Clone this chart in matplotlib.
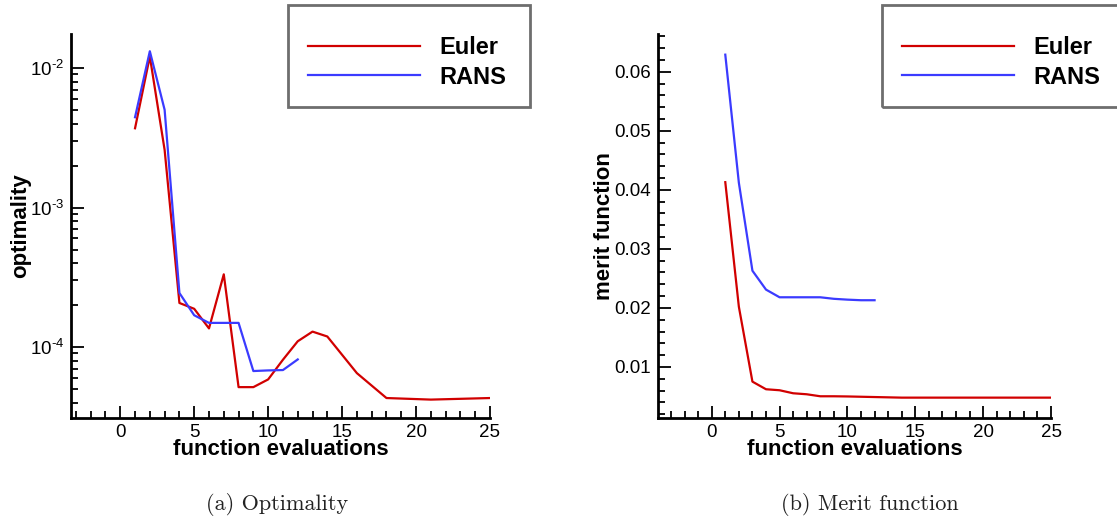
import math
import matplotlib
matplotlib.use("Agg")
import matplotlib.pyplot as plt
from matplotlib.ticker import MultipleLocator, LogLocator, NullFormatter, FuncFormatter, FormatStrFormatter
from matplotlib.patches import Rectangle

# ---------------- data ----------------
opt_euler_x = [1, 2, 3, 4, 5, 6, 7, 8, 9, 10, 11, 12, 13, 14, 16, 18, 21, 25]
opt_euler_y = [3.7e-3, 1.21e-2, 2.59e-3, 2.07e-4, 1.88e-4, 1.36e-4, 3.32e-4,
               5.16e-5, 5.16e-5, 5.86e-5, 8.11e-5, 1.10e-4, 1.29e-4, 1.19e-4,
               6.5e-5, 4.31e-5, 4.2e-5, 4.31e-5]
opt_rans_x = [1, 2, 3, 4, 5, 6, 7, 8, 9, 10, 11, 12]
opt_rans_y = [4.44e-3, 1.32e-2, 5.02e-3, 2.44e-4, 1.69e-4, 1.49e-4, 1.49e-4,
              1.49e-4, 6.73e-5, 6.8e-5, 6.84e-5, 8.15e-5]

mer_euler_x = [1, 2, 3, 4, 5, 6, 7, 8, 9, 10, 12, 14, 25]
mer_euler_y = [0.0413, 0.0202, 0.00751, 0.00622, 0.00605, 0.00554, 0.00537,
               0.00503, 0.00503, 0.00500, 0.00490, 0.00480, 0.00480]
mer_rans_x = [1, 2, 3, 4, 5, 6, 7, 8, 9, 10, 11, 12]
mer_rans_y = [0.0629, 0.0412, 0.0263, 0.0231, 0.0218, 0.0218, 0.0218,
              0.0218, 0.02154, 0.0214, 0.0213, 0.0213]

series_labels = ["Euler", "RANS"]
x_label = "function evaluations"
y_labels = ["optimality", "merit function"]
captions = ["(a) Optimality", "(b) Merit function"]

# ---------------- style ----------------
plt.rcParams['font.family'] = ['Liberation Sans', 'DejaVu Sans']
plt.rcParams['mathtext.fontset'] = 'custom'
plt.rcParams['mathtext.rm'] = 'Liberation Sans'
plt.rcParams['mathtext.it'] = 'Liberation Sans:italic'
plt.rcParams['mathtext.bf'] = 'Liberation Sans:bold'

RED = '#d10000'
BLUE = '#3b3bff'
W, H = 1117, 520
fig = plt.figure(figsize=(W / 100, H / 100), dpi=100)

def fx(px):
    return px / W

def fy(py):
    return 1 - py / H

axA = fig.add_axes([fx(71), fy(418), fx(490) - fx(71), fy(34) - fy(418)])
axB = fig.add_axes([fx(657.7), fy(418), fx(1051) - fx(657.7), fy(34) - fy(418)])

lw = 1.6
axA.plot(opt_euler_x, opt_euler_y, color=RED, lw=lw, label=series_labels[0])
axA.plot(opt_rans_x, opt_rans_y, color=BLUE, lw=lw, label=series_labels[1])
axB.plot(mer_euler_x, mer_euler_y, color=RED, lw=lw, label=series_labels[0])
axB.plot(mer_rans_x, mer_rans_y, color=BLUE, lw=lw, label=series_labels[1])


def decade_fmt(v, pos):
    e = int(round(math.log10(v)))
    sign = '-' if e < 0 else ''
    return r'$10^{\text{%s%d}}$' % (sign, abs(e))


axA.set_yscale('log')
axA.set_xlim(-3.33, 25)
axA.set_ylim(3.1e-5, 1.754e-2)
axA.yaxis.set_major_locator(LogLocator(base=10))
axA.yaxis.set_minor_locator(LogLocator(base=10, subs=range(2, 10)))
axA.yaxis.set_major_formatter(FuncFormatter(decade_fmt))
axA.yaxis.set_minor_formatter(NullFormatter())

axB.set_xlim(-3.98, 25)
axB.set_ylim(0.00135, 0.0664)
axB.yaxis.set_major_locator(MultipleLocator(0.01))
axB.yaxis.set_minor_locator(MultipleLocator(0.002))
axB.yaxis.set_major_formatter(FormatStrFormatter('%.2f'))

for ax, yl, ylx in [(axA, y_labels[0], -0.121), (axB, y_labels[1], -0.134)]:
    ax.xaxis.set_major_locator(MultipleLocator(5))
    ax.xaxis.set_minor_locator(MultipleLocator(1))
    for s in ['top', 'right']:
        ax.spines[s].set_visible(False)
    for s in ['left', 'bottom']:
        ax.spines[s].set_linewidth(2)
    ax.tick_params(which='both', direction='in', width=1.3, labelsize=13.5)
    ax.tick_params(which='major', length=9)
    ax.tick_params(which='minor', length=5)
    ax.tick_params(axis='x', pad=4)
    ax.tick_params(axis='y', pad=5)
    ax.set_xlabel(x_label, fontsize=16, fontweight='bold')
    ax.xaxis.set_label_coords(0.5, -0.083)
    ax.xaxis.label.set_verticalalignment('center')
    ax.set_ylabel(yl, fontsize=16, fontweight='bold')
    ax.yaxis.set_label_coords(ylx, 0.5)
    ax.yaxis.label.set_verticalalignment('center')

# legends
for ax, left in [(axA, 288), (axB, 882)]:
    fig.patches.append(Rectangle((fx(left), fy(107)), fx(242), fy(5) - fy(107),
                                 transform=fig.transFigure, fill=False,
                                 edgecolor='#6e6e6e', lw=2, zorder=5))
    ax.legend(loc='upper left', bbox_to_anchor=(fx(left + 20), fy(36)),
              bbox_transform=fig.transFigure, frameon=False, borderpad=0,
              borderaxespad=0, handlelength=4.75, handletextpad=0.8,
              labelspacing=0.28, prop={'size': 17, 'weight': 'bold'})

fig.text(fx(277), fy(505), captions[0], family='cmr10', fontsize=16,
         ha='center', va='center', color='#222222')
fig.text(fx(870), fy(505), captions[1], family='cmr10', fontsize=16,
         ha='center', va='center', color='#222222')

fig.savefig('out.png', dpi=100)
